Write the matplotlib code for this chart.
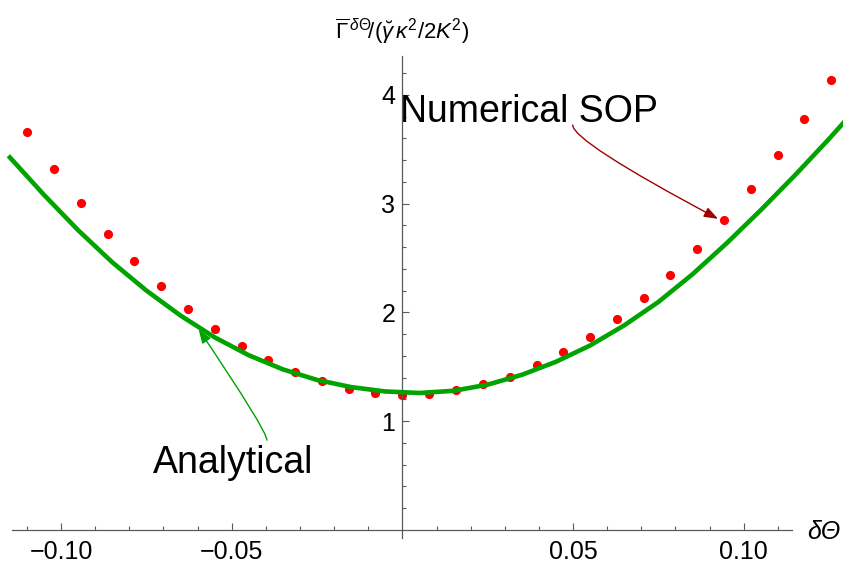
import numpy as np
import matplotlib
matplotlib.use("Agg")
import matplotlib.pyplot as plt

plt.rcParams['font.family'] = ['Liberation Sans', 'DejaVu Sans']
plt.rcParams['mathtext.fontset'] = 'custom'
plt.rcParams['mathtext.rm'] = 'Liberation Sans'
plt.rcParams['mathtext.it'] = 'Liberation Sans:italic'

# numerical SOP points (red dots)
sop_x = [-0.1100, -0.1021, -0.0942, -0.0864, -0.0785, -0.0707, -0.0628, -0.0550,
         -0.0471, -0.0393, -0.0314, -0.0236, -0.0157, -0.0079, 0.0, 0.0079,
         0.0157, 0.0236, 0.0314, 0.0393, 0.0471, 0.0550, 0.0628, 0.0707,
         0.0785, 0.0864, 0.0942, 0.1021, 0.1100, 0.1178, 0.1257]
sop_y = [3.66, 3.32, 3.01, 2.72, 2.47, 2.24, 2.03, 1.85,
         1.69, 1.56, 1.45, 1.365, 1.294, 1.26, 1.239, 1.251,
         1.282, 1.338, 1.408, 1.512, 1.632, 1.773, 1.941, 2.134,
         2.343, 2.585, 2.849, 3.132, 3.444, 3.778, 4.14]

# analytical curve (green)
ana_x = [-0.115, -0.105, -0.095, -0.085, -0.075, -0.065, -0.055, -0.045, -0.035,
         -0.025, -0.015, -0.005, 0.005, 0.015, 0.025, 0.035, 0.045, 0.055,
         0.065, 0.075, 0.085, 0.095, 0.105, 0.115, 0.125, 0.130]
ana_y = [3.425, 3.08, 2.755, 2.46, 2.20, 1.97, 1.77, 1.605, 1.475,
         1.378, 1.312, 1.272, 1.258, 1.278, 1.335, 1.425, 1.545, 1.695,
         1.88, 2.095, 2.35, 2.635, 2.94, 3.26, 3.595, 3.77]

xticks = [-0.10, -0.05, 0.05, 0.10]
xticklabels = ['\u22120.10', '\u22120.05', '0.05', '0.10']
yticks = [1, 2, 3, 4]

fig = plt.figure(figsize=(8.43, 5.63), dpi=100)
ax = fig.add_axes([0, 0, 1, 1])

ax.plot(sop_x, sop_y, 'o', color='#ff0000', markersize=6.6, markeredgewidth=0, zorder=2)
ax.plot(ana_x, ana_y, '-', color='#00a300', linewidth=3.3, zorder=3,
        solid_joinstyle='round')

ax.set_xlim(-0.1179, 0.1291)
ax.set_ylim(-0.306, 4.873)

axcol = '#5a5a5a'
for s in ['top', 'right']:
    ax.spines[s].set_visible(False)
ax.spines['left'].set_position(('data', 0))
ax.spines['bottom'].set_position(('data', 0))
ax.spines['left'].set_bounds(-0.076, 4.36)
ax.spines['bottom'].set_bounds(-0.1145, 0.1143)
for s in ['left', 'bottom']:
    ax.spines[s].set_color(axcol)
    ax.spines[s].set_linewidth(0.9)

ax.set_xticks(xticks)
ax.set_xticklabels(xticklabels)
ax.set_xticks(np.array([-11, -9, -8, -7, -6, -4, -3, -2, -1, 1, 2, 3, 4, 6, 7, 8, 9, 11]) / 100, minor=True)
ax.set_yticks(yticks)
ax.set_yticklabels(['1', '2', '3', '4'])
ax.set_yticks([0.2, 0.4, 0.6, 0.8, 1.2, 1.4, 1.6, 1.8, 2.2, 2.4, 2.6, 2.8,
               3.2, 3.4, 3.6, 3.8, 4.2], minor=True)
ax.tick_params(which='both', direction='in', color=axcol, width=0.8, labelsize=18)
ax.tick_params(which='major', length=5)
ax.tick_params(which='minor', length=3)
ax.tick_params(axis='x', pad=7.5)
ax.tick_params(axis='y', pad=5)

ax.text(0.0, 4.511, r'$\overline{\Gamma}^{\,\delta\Theta}\!/(\breve{\gamma}\,\kappa^{2}/2K^{2})$',
        ha='center', va='baseline', fontsize=16)
ax.text(0.1235, -0.086, '\u03b4\u0398', style='italic', ha='center', va='baseline', fontsize=18)

ax.text(0.0371, 3.753, 'Numerical SOP', ha='center', va='baseline', fontsize=27, zorder=5)
ax.text(-0.0497, 0.519, 'Analytical', ha='center', va='baseline', fontsize=27, zorder=5)

ax.annotate('', xy=(0.0925, 2.86), xytext=(0.0499, 3.723),
            arrowprops=dict(arrowstyle='-|>,head_length=0.6,head_width=0.22', color='#a00000',
                            lw=1.0, shrinkA=0, shrinkB=0, mutation_scale=14,
                            connectionstyle='angle3,angleA=-90,angleB=-28'))
ax.annotate('', xy=(-0.0597, 1.844), xytext=(-0.0397, 0.824),
            arrowprops=dict(arrowstyle='-|>,head_length=0.6,head_width=0.22', color='#00a300',
                            lw=1.0, shrinkA=0, shrinkB=0, mutation_scale=14,
                            connectionstyle='angle3,angleA=90,angleB=124'))

fig.savefig('out.png', dpi=100)
